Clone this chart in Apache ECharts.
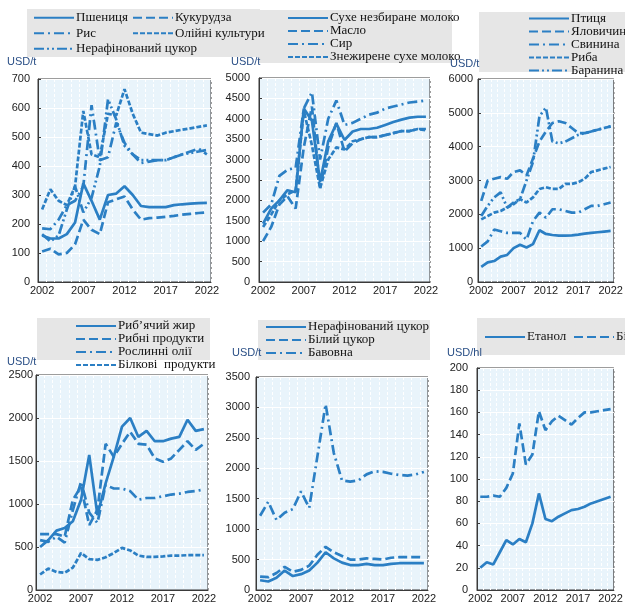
<!DOCTYPE html>
<html>
<head>
<meta charset="utf-8">
<script src="https://cdn.jsdelivr.net/npm/echarts@6/dist/echarts.min.js"></script>
<style>
html, body { margin: 0; padding: 0; background: #fff; }
#main { width: 625px; height: 604px; }
</style>
</head>
<body>
<div id="main"></div>
<script>
var years = ['2002', '2003', '2004', '2005', '2006', '2007', '2008', '2009', '2010', '2011', '2012',
    '2013', '2014', '2015', '2016', '2017', '2018', '2019', '2020', '2021', '2022'];

// grains, USD/t
var wheat = [160, 150, 150, 165, 205, 340, 280, 215, 300, 305, 330, 300, 262, 258, 258, 258, 265, 268, 270, 272, 273];
var maize = [105, 115, 95, 100, 130, 215, 180, 165, 275, 285, 295, 250, 215, 220, 222, 225, 228, 232, 235, 238, 240];
var rice = [185, 182, 215, 265, 280, 330, 610, 420, 430, 550, 480, 440, 410, 415, 420, 420, 430, 440, 450, 460, 440];
var oilseeds = [250, 320, 280, 265, 330, 590, 440, 430, 580, 575, 665, 580, 515, 510, 505, 515, 520, 525, 530, 535, 540];
var rawSugarA = [165, 140, 160, 250, 330, 240, 290, 400, 630, 560, 470, 440, 420, 420, 420, 420, 430, 440, 445, 450, 455];

// dairy, USD/t
var wmp = [1430, 1800, 2000, 2250, 2200, 4250, 3950, 2450, 3450, 3880, 3480, 3690, 3750, 3750, 3780, 3850, 3920, 3980, 4030, 4050, 4050];
var butter = [1000, 1350, 1900, 2100, 1800, 3300, 4300, 2300, 3300, 3900, 3200, 3400, 3500, 3550, 3550, 3600, 3650, 3700, 3700, 3750, 3750];
var cheese = [1700, 1900, 2600, 2750, 2800, 4250, 4650, 3000, 4000, 4450, 3850, 3900, 4000, 4100, 4150, 4250, 4300, 4350, 4400, 4420, 4450];
var smp = [1350, 1650, 2000, 2150, 2250, 4200, 3350, 2300, 3000, 3300, 3250, 3450, 3500, 3550, 3550, 3600, 3650, 3700, 3700, 3750, 3720];

// meat, USD/t
var poultry = [450, 580, 620, 750, 800, 1000, 1100, 1020, 1120, 1530, 1420, 1390, 1370, 1370, 1380, 1400, 1430, 1450, 1470, 1490, 1510];
var beef = [2400, 3000, 3050, 3100, 3050, 3250, 3300, 3150, 3650, 4150, 4450, 4700, 4750, 4700, 4550, 4400, 4400, 4450, 4500, 4550, 4600];
var pork = [1050, 1200, 1550, 1500, 1450, 1450, 1450, 1250, 1800, 2050, 1900, 2150, 2150, 2100, 2050, 2050, 2150, 2250, 2250, 2300, 2350];
var fish = [1850, 1950, 2050, 2100, 2200, 2300, 2450, 2350, 2500, 2750, 2800, 2750, 2750, 2900, 2900, 2950, 3050, 3250, 3300, 3350, 3400];
var lamb = [1950, 2250, 2500, 2650, 2200, 2350, 2450, 3000, 3550, 4900, 5150, 4150, 4100, 4150, 4250, 4350, 4400, 4450, 4500, 4550, 4600];

// oils and meals, USD/t
var fishOil = [500, 580, 690, 720, 800, 1050, 1570, 870, 1240, 1550, 1900, 2000, 1780, 1850, 1730, 1730, 1760, 1780, 1980, 1850, 1870];
var fishMeal = [650, 650, 650, 620, 1050, 1200, 755, 930, 1700, 1550, 1700, 1840, 1700, 1690, 1530, 1490, 1530, 1630, 1730, 1630, 1700];
var vegOil = [580, 560, 620, 550, 930, 1260, 900, 780, 1220, 1180, 1180, 1150, 1050, 1070, 1070, 1090, 1110, 1120, 1140, 1150, 1170];
var proteinMeal = [180, 250, 210, 200, 260, 430, 360, 350, 380, 430, 490, 460, 400, 385, 385, 390, 400, 400, 405, 405, 405];

// sugar and cotton, USD/t
var rawSugar = [160, 140, 200, 320, 230, 260, 320, 450, 620, 520, 450, 410, 410, 430, 410, 410, 430, 440, 440, 440, 440];
var whiteSugar = [220, 210, 280, 380, 300, 330, 400, 580, 710, 620, 560, 500, 500, 520, 510, 500, 530, 540, 540, 540, 540];
var cotton = [1220, 1450, 1150, 1270, 1330, 1620, 1350, 2200, 3050, 2250, 1800, 1780, 1800, 1900, 1950, 1940, 1910, 1890, 1880, 1900, 1940];

// biofuels, USD/hl
var ethanol = [20, 25, 23, 34, 45, 41, 46, 43, 60, 87, 64, 62, 66, 69, 72, 73, 75, 78, 80, 82, 84];
var biodiesel = [84, 84, 85, 84, 92, 105, 150, 113, 122, 161, 144, 152, 157, 153, 149, 155, 160, 160, 161, 162, 163];

var blue = '#2b7fc4';
var SOLID = 'solid';
var LONG = [9, 4];
var SHORT = [5, 2];
var DASHDOT = [10, 4, 2, 4];
var DASHDOTDOT = [10, 3, 2, 3, 2, 3];

// plot boxes [left, top, width, height, max, interval, labelMargin]
var panels = [
    [38, 79, 173, 203, 700, 100, 8],
    [259, 78, 171, 204, 5000, 500, 9],
    [478, 79, 172, 203, 6000, 1000, 5],
    [36, 375, 172, 215, 2500, 500, 3],
    [256, 377, 172, 213, 3500, 500, 6],
    [477, 368, 172, 222, 200, 20, 9]
];

var grids = [], xAxes = [], yAxes = [];
panels.forEach(function (p, i) {
    grids.push({
        left: p[0], top: p[1], width: p[2], height: p[3],
        show: true, backgroundColor: '#e9f4fb', borderColor: '#3a3a3a', borderWidth: 1
    });
    xAxes.push({
        type: 'category', gridIndex: i, data: years, boundaryGap: true,
        axisLine: { lineStyle: { color: '#3a3a3a' } },
        axisTick: { inside: true, length: 4, interval: 0, alignWithLabel: true, lineStyle: { color: '#3a3a3a' } },
        axisLabel: { interval: 4, margin: 3, color: '#1a1a1a', fontSize: 11, fontFamily: 'Liberation Sans' },
        splitLine: { show: true, interval: 0, lineStyle: { color: '#ffffff', width: 1, type: [3, 2] } }
    });
    yAxes.push({
        type: 'value', gridIndex: i, min: 0, max: p[4], interval: p[5],
        axisLine: { show: true, lineStyle: { color: '#3a3a3a' } },
        axisTick: { show: true, inside: true, length: 3, lineStyle: { color: '#3a3a3a' } },
        axisLabel: {
            margin: p[6], color: '#222', fontSize: 11, fontFamily: 'Liberation Sans',
            formatter: function (v) { return String(v); }
        },
        splitLine: { show: true, lineStyle: { color: '#ffffff', width: 1 } }
    });
});

function line(name, data, idx, dash) {
    return {
        name: name, type: 'line', data: data,
        xAxisIndex: idx, yAxisIndex: idx,
        symbol: 'none', smooth: false,
        lineStyle: { color: blue, width: 2.7, type: dash },
        itemStyle: { color: blue },
        emphasis: { disabled: true }
    };
}

var series = [
    line('Пшениця', wheat, 0, SOLID),
    line('Кукурудза', maize, 0, LONG),
    line('Рис', rice, 0, DASHDOT),
    line('Олійні культури', oilseeds, 0, SHORT),
    line('Нерафінований цукор', rawSugarA, 0, DASHDOTDOT),

    line('Сухе незбиране молоко', wmp, 1, SOLID),
    line('Масло', butter, 1, LONG),
    line('Сир', cheese, 1, DASHDOT),
    line('Знежирене сухе молоко', smp, 1, SHORT),

    line('Птиця', poultry, 2, SOLID),
    line('Яловичина', beef, 2, LONG),
    line('Свинина', pork, 2, DASHDOT),
    line('Риба', fish, 2, SHORT),
    line('Баранина', lamb, 2, DASHDOTDOT),

    line('Риб\u02bcячий жир', fishOil, 3, SOLID),
    line('Рибні продукти', fishMeal, 3, LONG),
    line('Рослинні олії', vegOil, 3, DASHDOT),
    line('Білкові  продукти', proteinMeal, 3, SHORT),

    line('Нерафінований цукор ', rawSugar, 4, SOLID),
    line('Білий цукор', whiteSugar, 4, LONG),
    line('Бавовна', cotton, 4, DASHDOT),

    line('Етанол', ethanol, 5, SOLID),
    line('Біодизель', biodiesel, 5, LONG)
];

function legendBlock(names, left, top, pitch) {
    return {
        data: names, left: left, top: top, orient: 'vertical',
        padding: 0, itemGap: 0,
        itemWidth: 40, itemHeight: pitch,
        selectedMode: false,
        itemStyle: { opacity: 0 },
        textStyle: { fontFamily: 'Liberation Serif', fontSize: 13, color: '#111', lineHeight: pitch, padding: [0, 0, 0, -3] }
    };
}

var legends = [
    legendBlock(['Пшениця', 'Рис', 'Нерафінований цукор'], 33, 10, 15.5),
    legendBlock(['Кукурудза', 'Олійні культури'], 132, 10, 15.5),
    legendBlock(['Сухе незбиране молоко', 'Масло', 'Сир', 'Знежирене сухе молоко'], 287, 11.5, 13),
    legendBlock(['Птиця', 'Яловичина', 'Свинина', 'Риба', 'Баранина'], 528, 12, 11.7),
    legendBlock(['Риб\u02bcячий жир', 'Рибні продукти', 'Рослинні олії', 'Білкові  продукти'], 75, 319.5, 11),
    legendBlock(['Нерафінований цукор ', 'Білий цукор', 'Бавовна'], 265, 320.5, 13),
    legendBlock(['Етанол'], 484, 330, 14),
    legendBlock(['Біодизель'], 573, 330, 14)
];

function box(x, y, w, h) {
    return { type: 'rect', left: x, top: y, z: -10, shape: { width: w, height: h }, style: { fill: '#e6e6e6' } };
}
function unit(txt, x, y) {
    return { type: 'text', left: x, top: y, style: { text: txt, fill: '#2a4f86', font: '11px "Liberation Sans"' } };
}

var graphics = [
    box(27, 9, 233, 48),
    box(258, 10, 194, 53),
    box(479, 12, 150, 60),
    box(37, 318, 173, 42),
    box(258, 320, 172, 40),
    box(477, 318, 150, 37),
    unit('USD/t', 7, 56),
    unit('USD/t', 231, 56),
    unit('USD/t', 450, 58),
    unit('USD/t', 7, 356),
    unit('USD/t', 232, 347),
    unit('USD/hl', 447, 347)
];

var chart = echarts.init(document.getElementById('main'));
chart.setOption({
    animation: false,
    grid: grids,
    xAxis: xAxes,
    yAxis: yAxes,
    legend: legends,
    graphic: graphics,
    series: series
});
</script>
</body>
</html>
